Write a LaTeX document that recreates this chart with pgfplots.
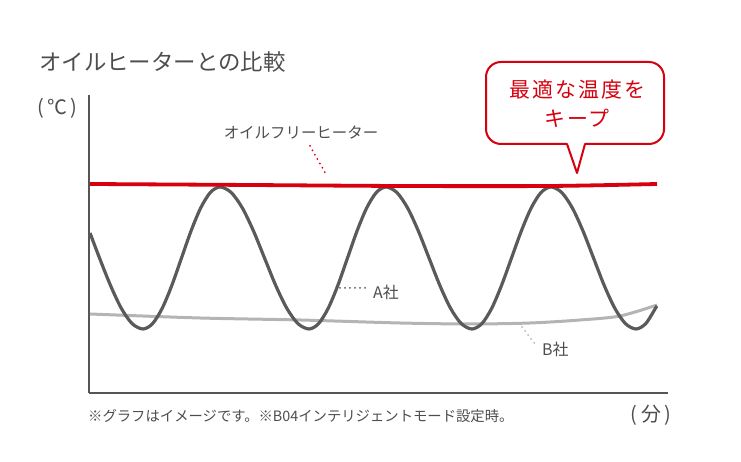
\documentclass[border=0pt]{standalone}
\usepackage{fontspec}
\setmainfont{Noto Sans CJK JP}
\usepackage{pgfplots}
\pgfplotsset{compat=1.18}
\definecolor{txtgray}{HTML}{4D4D4D}
\definecolor{axgray}{HTML}{555555}
\definecolor{wavegray}{HTML}{5A5A5A}
\definecolor{lightgray2}{HTML}{B4B4B4}
\definecolor{hred}{HTML}{D7000F}
\begin{document}
\begin{tikzpicture}[x=1bp,y=1bp]
\path[use as bounding box] (0,0) rectangle (741,462);
\begin{axis}[
  at={(89bp,69bp)}, anchor=south west,
  scale only axis, width=579bp, height=298bp,
  xmin=89, xmax=668, ymin=0, ymax=298,
  axis lines=left,
  axis line style={-, draw=axgray, line width=1.5bp},
  xtick=\empty, ytick=\empty,
  clip=false,
]
% light gray: B company
\addplot[lightgray2, line width=3bp, smooth] coordinates {
 (90,79) (200,75) (300,73) (400,70) (470,69) (530,70) (580,73) (620,77) (657,88)};
% dark gray wave: A company
\addplot[wavegray, line width=3.2bp, smooth, tension=0.5] coordinates {
 (90,160) (99.5,135) (110.4,107.8) (121.25,84.8) (132.1,69.4) (143,64)
 (152.6,69.4) (162.25,84.8) (171.9,107.8) (181.5,135) (191.1,162.2) (200.75,185.2) (210.4,200.6) (220,206)
 (231.1,200.6) (242.25,185.2) (253.4,162.2) (264.5,135) (275.6,107.8) (286.75,84.8) (297.9,69.4) (309,64)
 (318.6,69.4) (328.25,84.8) (337.9,107.8) (347.5,135) (357.1,162.2) (366.75,185.2) (376.4,200.6) (386,206)
 (396.75,200.6) (407.5,185.2) (418.25,162.2) (429,135) (439.75,107.8) (450.5,84.8) (461.25,69.4) (472,64)
 (481.9,69.4) (491.75,84.8) (501.6,107.8) (511.5,135) (521.4,162.2) (531.25,185.2) (541.1,200.6) (551,206)
 (561.6,200.6) (572.25,185.2) (582.9,162.2) (593.5,135) (604.1,107.8) (614.75,84.8) (625.4,69.4) (636,64)
 (645.75,69.4) (655.5,84.8) (657,87)};
% red: oil-free heater
\addplot[hred, line width=3.8bp, smooth] coordinates {
 (90,209) (250,208) (400,207) (550,207) (657,209)};
\end{axis}
% title
\node[anchor=west, text=txtgray, font=\fontsize{22.5}{26}\selectfont, inner sep=0pt] at (39,400) {オイルヒーターとの比較};
\node[anchor=west, text=txtgray, font=\fontsize{20}{24}\selectfont, inner sep=0pt] at (37,354) {(\,℃\,)};
\node[text=txtgray, font=\fontsize{20}{24}\selectfont, inner sep=0pt] at (651,47) {(\,分\,)};
\node[anchor=west, text=txtgray, font=\fontsize{14.4}{16}\selectfont, inner sep=0pt] at (88,46) {※グラフはイメージです。※B04インテリジェントモード設定時。};
% labels
\node[text=txtgray, font=\fontsize{15.5}{18}\selectfont, inner sep=0pt] at (301,329) {オイルフリーヒーター};
\draw[hred, line width=2bp, line cap=round, dash pattern=on 0bp off 5bp] (310,316) -- (327,286);
\node[anchor=west, text=txtgray, font=\fontsize{16}{18}\selectfont, inner sep=0pt] at (373,170) {A社};
\draw[wavegray, line width=2bp, line cap=round, dash pattern=on 0bp off 5bp] (340,174) -- (367,174);
\node[anchor=west, text=txtgray, font=\fontsize{16}{18}\selectfont, inner sep=0pt] at (542,113) {B社};
\draw[lightgray2, line width=2bp, line cap=round, dash pattern=on 0bp off 5bp] (522,135) -- (535,118);
% callout
\draw[hred, line width=2bp, fill=white, line join=round]
  {[rounded corners=15bp] (567,318) -- (486,318) -- (486,400) -- (664,400) -- (664,318)} -- (585,318) -- (577,289) -- cycle;
\node[text=hred, font=\fontsize{21}{24}\selectfont\addfontfeature{LetterSpace=10}, inner sep=0pt] at (577,372) {最適な温度を};
\node[text=hred, font=\fontsize{21}{24}\selectfont\addfontfeature{LetterSpace=10}, inner sep=0pt] at (577,344) {キープ};
\end{tikzpicture}
\end{document}
